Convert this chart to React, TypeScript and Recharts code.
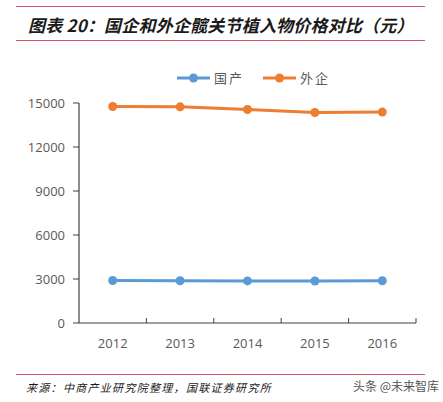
import React from 'react';
import { LineChart, Line, XAxis, YAxis } from 'recharts';

// Data
const years = ['2012', '2013', '2014', '2015', '2016'];
const domestic = [2900, 2880, 2870, 2860, 2880]; // 国产
const foreign = [14760, 14740, 14560, 14350, 14380]; // 外企
const yTicks = [0, 3000, 6000, 9000, 12000, 15000];

const series = [
    { key: 'domestic', name: '国产', color: '#5B9BD5' },
    { key: 'foreign', name: '外企', color: '#ED7D31' },
];

const data = years.map((year, i) => ({ year, domestic: domestic[i], foreign: foreign[i] }));

const W = 443;
const H = 402;
const margin = { top: 103, right: 27, left: 0, bottom: 49 };
const yAxisWidth = 79;
const plotWidth = W - margin.left - margin.right - yAxisWidth;
const band = plotWidth / years.length;

const axisColor = '#404040';
const labelColor = '#595959';
const redLine = '#D9546B';

const YearTick = (props: any) => {
    const { x, y, payload } = props;
    return (
        <g>
            <line x1={x + band / 2} x2={x + band / 2} y1={y} y2={y - 5} stroke={axisColor} strokeWidth={1} />
            <text x={x} y={y + 24.5} textAnchor="middle" fill={labelColor} fontSize={13} fontFamily="'Open Sans', sans-serif">
                {payload.value}
            </text>
        </g>
    );
};

export default function App() {
    return (
        <div style={{ position: 'absolute', left: 0, top: 0, width: W, height: H, background: '#fff', overflow: 'hidden' }}>
            {/* Header rule + title */}
            <div style={{ position: 'absolute', left: 16, top: 6, width: 409, height: 0, borderTop: `1.5px solid ${redLine}` }} />
            <div
                style={{
                    position: 'absolute', left: 28, top: 13, whiteSpace: 'nowrap',
                    fontFamily: "'Noto Sans CJK SC', sans-serif", fontSize: 17, fontWeight: 700,
                    fontStyle: 'italic', color: '#1a1a1a', lineHeight: '24px', letterSpacing: 0.2,
                }}
            >
                图表 20：国企和外企髋关节植入物价格对比（元）
            </div>
            <div style={{ position: 'absolute', left: 16, top: 39.5, width: 409, height: 0, borderTop: `1.5px solid ${redLine}` }} />

            {/* Legend */}
            <div style={{ position: 'absolute', left: 177, top: 69, display: 'flex', alignItems: 'center', fontFamily: "'Noto Sans CJK SC', sans-serif", fontSize: 13, color: labelColor }}>
                {series.map((s, i) => (
                    <div key={s.key} style={{ display: 'flex', alignItems: 'center', marginRight: i === 0 ? 19 : 0 }}>
                        <svg width={33} height={12} style={{ marginRight: 4 }}>
                            <line x1={0} x2={33} y1={6} y2={6} stroke={s.color} strokeWidth={3} />
                            <circle cx={16.5} cy={6} r={4.5} fill={s.color} />
                        </svg>
                        <span style={{ letterSpacing: 2, lineHeight: '18px' }}>{s.name}</span>
                    </div>
                ))}
            </div>

            <div style={{ position: 'absolute', left: 0, top: 0 }}>
                <LineChart width={W} height={H} data={data} margin={margin}>
                    <XAxis
                        dataKey="year"
                        height={30}
                        padding={{ left: band / 2, right: band / 2 }}
                        axisLine={{ stroke: axisColor, strokeWidth: 1.2 }}
                        tickLine={false}
                        tickSize={0}
                        tickMargin={0}
                        tick={<YearTick />}
                        interval={0}
                    />
                    <YAxis
                        width={yAxisWidth}
                        domain={[0, 15000]}
                        ticks={yTicks}
                        interval={0}
                        axisLine={{ stroke: axisColor, strokeWidth: 1.2 }}
                        tickLine={{ stroke: axisColor }}
                        tickSize={6}
                        tickMargin={8}
                        tick={{ fill: labelColor, fontSize: 13, fontFamily: "'Open Sans', sans-serif" }}
                    />
                    {series.map((s) => (
                        <Line
                            key={s.key}
                            dataKey={s.key}
                            name={s.name}
                            stroke={s.color}
                            strokeWidth={3}
                            dot={{ r: 4.5, fill: s.color, stroke: s.color, strokeWidth: 0 }}
                            isAnimationActive={false}
                        />
                    ))}
                </LineChart>
            </div>

            {/* Footer */}
            <div style={{ position: 'absolute', left: 16, top: 373.5, width: 409, height: 0, borderTop: `1.5px solid ${redLine}` }} />
            <div
                style={{
                    position: 'absolute', left: 26, top: 379, whiteSpace: 'nowrap',
                    fontFamily: "'Noto Sans CJK SC', sans-serif", fontSize: 11, fontStyle: 'italic',
                    color: '#1a1a1a', letterSpacing: 1.3, lineHeight: '16px',
                }}
            >
                来源：中商产业研究院整理，国联证券研究所
            </div>
            <div
                style={{
                    position: 'absolute', left: 353, top: 378, whiteSpace: 'nowrap',
                    fontFamily: "'Noto Sans CJK SC', sans-serif", fontSize: 12,
                    color: '#555', lineHeight: '16px',
                }}
            >
                头条 @未来智库
            </div>
        </div>
    );
}
